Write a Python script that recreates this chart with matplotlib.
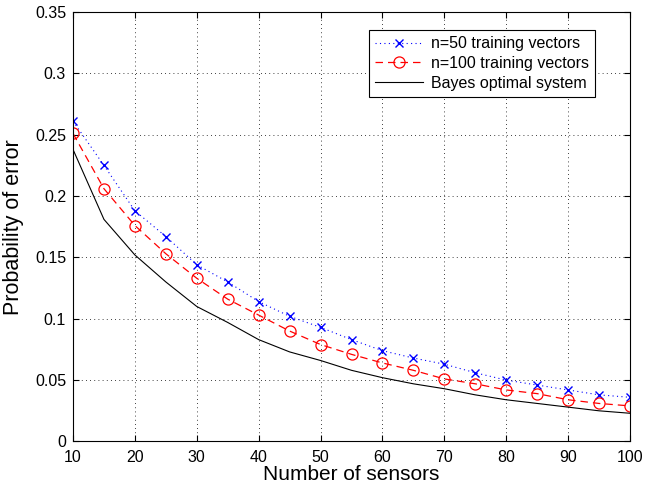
import matplotlib
matplotlib.use("Agg")
import matplotlib.pyplot as plt

plt.rcParams['font.family'] = ['Liberation Sans', 'DejaVu Sans']

sensors = [10, 15, 20, 25, 30, 35, 40, 45, 50, 55, 60, 65, 70, 75, 80, 85, 90, 95, 100]
n50 = [0.261, 0.225, 0.188, 0.167, 0.144, 0.130, 0.114, 0.102, 0.093, 0.083, 0.074,
       0.068, 0.063, 0.056, 0.050, 0.046, 0.042, 0.038, 0.036]
n100 = [0.251, 0.206, 0.176, 0.153, 0.133, 0.116, 0.103, 0.090, 0.079, 0.071, 0.064,
        0.058, 0.051, 0.047, 0.042, 0.039, 0.034, 0.031, 0.029]
bayes = [0.238, 0.181, 0.152, 0.130, 0.110, 0.097, 0.083, 0.073, 0.066, 0.058, 0.052,
         0.047, 0.043, 0.038, 0.034, 0.031, 0.028, 0.025, 0.023]

xticks = [10, 20, 30, 40, 50, 60, 70, 80, 90, 100]
yticks = [0, 0.05, 0.1, 0.15, 0.2, 0.25, 0.3, 0.35]
yticklabels = ['0', '0.05', '0.1', '0.15', '0.2', '0.25', '0.3', '0.35']

fig = plt.figure(figsize=(6.45, 4.88), dpi=100)
ax = fig.add_axes([0.1132, 0.0953, 0.8636, 0.8801])

ax.plot(sensors, n50, color='blue', linestyle=(0, (1, 3)), linewidth=0.8,
        marker='x', markersize=6, markeredgewidth=1.0, label='n=50 training vectors')
ax.plot(sensors, n100, color='red', linestyle=(0, (6, 4)), linewidth=0.9,
        marker='o', markersize=8, markerfacecolor='none', markeredgewidth=0.9,
        label='n=100 training vectors')
ax.plot(sensors, bayes, color='black', linestyle='-', linewidth=0.8,
        label='Bayes optimal system')

ax.set_xlim(10, 100)
ax.set_ylim(0, 0.35)
ax.set_xticks(xticks)
ax.set_yticks(yticks)
ax.set_yticklabels(yticklabels)
ax.tick_params(direction='in', top=True, right=True, labelsize=11.5, length=4, width=0.8)
ax.tick_params(axis='x', pad=6)
ax.tick_params(axis='y', pad=5)
ax.grid(True, color='black', linestyle=(0, (1, 4)), linewidth=0.6)
for s in ax.spines.values():
    s.set_linewidth(0.8)

ax.set_xlabel('Number of sensors', fontsize=15, labelpad=0)
ax.set_ylabel('Probability of error', fontsize=15.5, labelpad=8)

leg = ax.legend(loc='upper right', fontsize=11.5, fancybox=False, framealpha=1,
                edgecolor='black', borderpad=0.4, labelspacing=0.3, handlelength=3,
                handletextpad=0.5, bbox_to_anchor=(0.952, 0.977))
leg.get_frame().set_linewidth(0.8)

fig.savefig('out.png', dpi=100)
